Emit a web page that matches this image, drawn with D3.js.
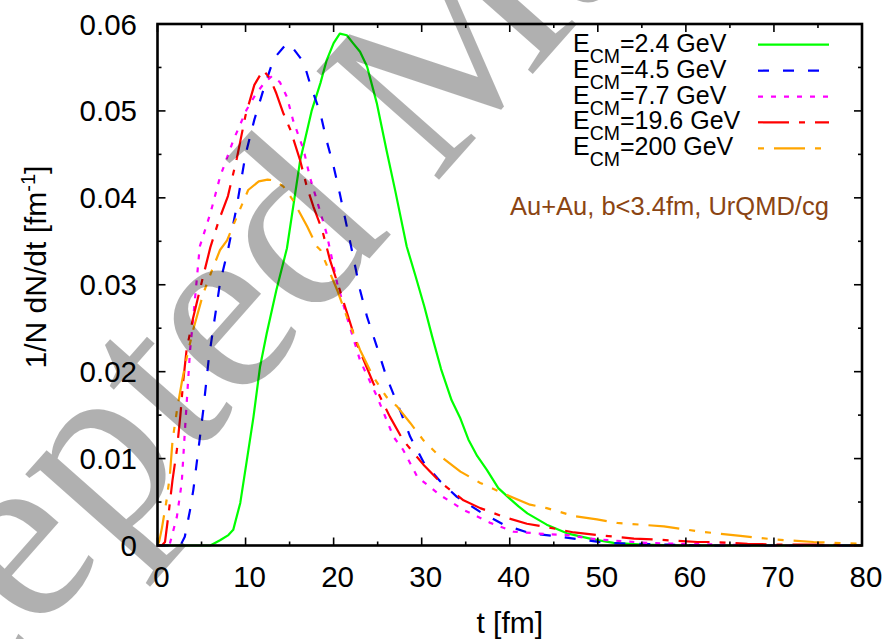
<!DOCTYPE html>
<html>
<head>
<meta charset="utf-8">
<script src="https://cdn.jsdelivr.net/npm/d3@7/dist/d3.min.js"></script>
<style>
html,body{margin:0;padding:0;background:#fff;}
svg{display:block;}
text{font-family:"Liberation Sans",Arial,Helvetica,sans-serif;}
text.wm{font-family:"Liberation Serif","Times New Roman",serif;}
</style>
</head>
<body>
<svg id="chart" width="886" height="639"></svg>
<script>
// ---- data (t [fm], 1/N dN/dt [fm^-1]) ----
const energies = ["2.4", "4.5", "7.7", "19.6", "200"];
const colors = ["#00ff00", "#0000ff", "#ff00ff", "#ff0000", "#ffa500"];
const dashes = [null, "11,14", "5,8", "31,10,6,10", "31,10,6,10,6,10"];
const legendDashOffset = [0, 0, 0, 0, 57];

const e24 = [[0,0],[6,0],[7.1,0.0006],[8.05,0.0012],[8.6,0.0018],[9.4,0.0049],[10.1,0.0095],[10.9,0.0148],[11.65,0.0206],[12.4,0.0244],[13.5,0.0294],[14.7,0.0342],[16.2,0.0443],[17.5,0.050],[18.5,0.0532],[19.2,0.0558],[20,0.0578],[20.7,0.0589],[21.5,0.0587],[22.2,0.0578],[23,0.0568],[23.8,0.0551],[24.9,0.0509],[26,0.0455],[27,0.0408],[28.3,0.0344],[29.3,0.031],[30.3,0.0275],[31.2,0.024],[32.2,0.0203],[33.4,0.0167],[34.4,0.0146],[35.3,0.0122],[36.3,0.0103],[37.4,0.0087],[38.7,0.0066],[40,0.0054],[41,0.0045],[42,0.0037],[44.2,0.0024],[46.5,0.0014],[49.5,0.0007],[51.8,0.0003],[55,0.0001],[60,0],[80,0]];
const e45 = [[0,0],[2.6,0],[3.1,0.001],[3.7,0.0041],[4.07,0.0064],[4.64,0.011],[5.2,0.0156],[5.8,0.0213],[6.3,0.0248],[7.1,0.0302],[8.0,0.034],[9.0,0.039],[10.0,0.045],[11.0,0.049],[12.2,0.053],[13.2,0.056],[14.7,0.0578],[15.4,0.0572],[16.6,0.0556],[17.3,0.0532],[18.5,0.0497],[19.2,0.0466],[20,0.0436],[20.7,0.0405],[21.9,0.0348],[23.0,0.0294],[23.8,0.0263],[24.9,0.0229],[26.0,0.0194],[27.6,0.0154],[28.7,0.0125],[30.2,0.0096],[32.1,0.0074],[34,0.0056],[36.6,0.0039],[39.3,0.0024],[42.3,0.0014],[45,0.0011],[48,0.0007],[51,0.0003],[54,0.0002],[58,0.0001],[62,0],[80,0]];
const e77 = [[0,0],[1.0,0],[1.4,0.0002],[2.2,0.0033],[2.75,0.0072],[3.1,0.013],[3.7,0.0225],[4.07,0.0263],[4.8,0.0344],[6.0,0.0382],[7.1,0.0424],[8.6,0.0466],[10.1,0.0501],[11.2,0.052],[12.2,0.0533],[13,0.054],[13.9,0.0533],[14.7,0.0516],[15.4,0.0489],[16.6,0.0455],[17.3,0.0424],[18.1,0.0397],[19.2,0.0359],[20.4,0.0302],[21.5,0.0263],[23,0.0213],[24.9,0.0172],[26.8,0.0125],[27.9,0.011],[29.5,0.0079],[32.1,0.0058],[34.75,0.0041],[37.8,0.0026],[40.4,0.0016],[44.2,0.0013],[46.5,0.0012],[49.9,0.0007],[55.6,0.0003],[59,0.0002],[64,0.0001],[70,0],[80,0]];
const e196 = [[0,0],[0.5,0],[0.85,0.0004],[1.3,0.004],[1.7,0.0075],[2.2,0.011],[2.6,0.015],[2.9,0.0187],[3.3,0.0225],[4.0,0.026],[4.9,0.0298],[6.0,0.0343],[7.0,0.0375],[8.0,0.0402],[9.0,0.0445],[10.0,0.0495],[11.0,0.053],[12.0,0.0547],[12.8,0.0537],[13.5,0.052],[14.3,0.0497],[15.1,0.0478],[16.2,0.0443],[16.95,0.0413],[17.7,0.039],[18.7,0.0363],[19.6,0.0328],[20.7,0.0294],[22.6,0.0233],[24.5,0.0187],[26.4,0.0148],[27.9,0.0121],[30.2,0.0093],[32.1,0.0073],[34.75,0.0052],[36.65,0.0043],[39.3,0.0033],[41.95,0.0025],[43.8,0.0022],[47.3,0.0015],[49.9,0.0012],[54.1,0.0008],[56.4,0.0007],[61.3,0.0004],[63.2,0.0004],[67,0.0002],[71,0.0001],[75,0.0001],[80,0]];
const e200 = [[0,0],[0.2,0.0005],[0.5,0.002],[1.0,0.005],[1.4,0.008],[1.7,0.012],[2.2,0.0155],[2.8,0.019],[3.4,0.022],[4.1,0.025],[5.2,0.029],[6.2,0.0317],[7.1,0.034],[7.9,0.0351],[9.0,0.0378],[10.3,0.0409],[11.5,0.0419],[12.5,0.0421],[13.3,0.042],[14.3,0.0413],[15.4,0.0397],[16.2,0.0382],[17,0.0367],[18.1,0.0344],[18.5,0.034],[20.4,0.0294],[21.5,0.0263],[23,0.0225],[24.5,0.0194],[26,0.0171],[27.2,0.016],[28.7,0.0141],[30.2,0.0121],[31.7,0.0106],[34.4,0.0085],[36.65,0.0072],[39.7,0.0058],[42.3,0.0047],[44.2,0.0043],[47.25,0.0034],[49.9,0.003],[52.2,0.0026],[57.5,0.0022],[61.6,0.0016],[66.2,0.0011],[70,0.0007],[74.5,0.0004],[80,0.0002]];
const seriesData = [e24, e45, e77, e196, e200];

const xTicks = [0, 10, 20, 30, 40, 50, 60, 70, 80];
const yTicks = [0, 0.01, 0.02, 0.03, 0.04, 0.05, 0.06];
const yTickLabels = ["0", "0.01", "0.02", "0.03", "0.04", "0.05", "0.06"];
const watermarkText = "Accepted Manuscript";

// ---- layout ----
const L = 157.5, R = 862, T = 24, B = 545.5;
const svg = d3.select("#chart");
const x = d3.scaleLinear().domain([0, 80]).range([L, R]);
const y = d3.scaleLinear().domain([0, 0.06]).range([B, T]);

// curves
const line = d3.line().x(d => x(d[0])).y(d => y(d[1]));
const gCurves = svg.append("g");
seriesData.forEach((s, i) => {
  gCurves.append("path")
    .attr("d", line(s))
    .attr("fill", "none")
    .attr("stroke", colors[i])
    .attr("stroke-width", 2.2)
    .attr("stroke-dasharray", dashes[i])
    .attr("stroke-linejoin", "round");
});

// ticks (inward, mirrored)
const gAx = svg.append("g").attr("stroke", "#000").attr("stroke-width", 1.6);
d3.range(0, 80.01, 5).forEach(v => {
  const len = (v % 10 === 0) ? 8 : 4;
  gAx.append("line").attr("x1", x(v)).attr("x2", x(v)).attr("y1", B).attr("y2", B - len);
  gAx.append("line").attr("x1", x(v)).attr("x2", x(v)).attr("y1", T).attr("y2", T + len);
});
d3.range(0, 0.0601, 0.005).forEach((v, k) => {
  const len = (k % 2 === 0) ? 8 : 4;
  gAx.append("line").attr("y1", y(v)).attr("y2", y(v)).attr("x1", L).attr("x2", L + len);
  gAx.append("line").attr("y1", y(v)).attr("y2", y(v)).attr("x1", R).attr("x2", R - len);
});
// frame
svg.append("rect").attr("x", L).attr("y", T).attr("width", R - L).attr("height", B - T)
  .attr("fill", "none").attr("stroke", "#000").attr("stroke-width", 2.6);

// tick labels
const gLab = svg.append("g").attr("font-size", 29.5).attr("fill", "#000");
xTicks.forEach(v => {
  gLab.append("text").attr("x", x(v) + 4).attr("y", 587).attr("text-anchor", "middle").text(v);
});
yTicks.forEach((v, i) => {
  gLab.append("text").attr("x", 137).attr("y", y(v) + 10.5).attr("text-anchor", "end").text(yTickLabels[i]);
});

// axis titles
svg.append("text").attr("x", (L + R) / 2).attr("y", 633).attr("text-anchor", "middle")
  .attr("font-size", 30).text("t [fm]");
const yt = svg.append("text").attr("transform", "translate(46,267) rotate(-90)")
  .attr("text-anchor", "middle").attr("font-size", 30);
yt.append("tspan").text("1/N dN/dt [fm");
yt.append("tspan").attr("font-size", 20).attr("dy", -11).text("-1");
yt.append("tspan").attr("dy", 11).text("]");

// legend
const legY = [44.7, 70.7, 96.7, 122.3, 148.3];
energies.forEach((e, i) => {
  const t = svg.append("text").attr("x", 573).attr("y", legY[i] + 7).attr("font-size", 25);
  t.append("tspan").text("E");
  t.append("tspan").attr("font-size", 19.5).attr("dy", 11).text("CM");
  t.append("tspan").attr("dy", -11).text("=" + e + " GeV");
  svg.append("line").attr("x1", 758).attr("x2", 829).attr("y1", legY[i]).attr("y2", legY[i])
    .attr("stroke", colors[i]).attr("stroke-width", 2.2)
    .attr("stroke-dasharray", dashes[i]).attr("stroke-dashoffset", legendDashOffset[i]);
});

// annotation
svg.append("text").attr("x", 510).attr("y", 215).attr("font-size", 25.5).attr("fill", "#8b4513")
  .text("Au+Au, b<3.4fm, UrQMD/cg");

// watermark (semi-transparent, on top)
const fs = 250;
const wOuter = svg.append("g").attr("transform", "translate(-3,-5) rotate(4.5,375,252)");
const wg = wOuter.append("g").attr("transform", "translate(240,345) rotate(-53)");
const wt = wg.append("text")
  .attr("class", "wm")
  .attr("x", 0).attr("y", 0)
  .attr("font-size", fs)
  .attr("fill", "#000").attr("fill-opacity", 0.31)
  .text(watermarkText);
const ext = wt.node().getExtentOfChar(6);
wt.attr("x", -(ext.x + ext.width / 2)).attr("y", 0.23 * fs);
</script>
</body>
</html>
